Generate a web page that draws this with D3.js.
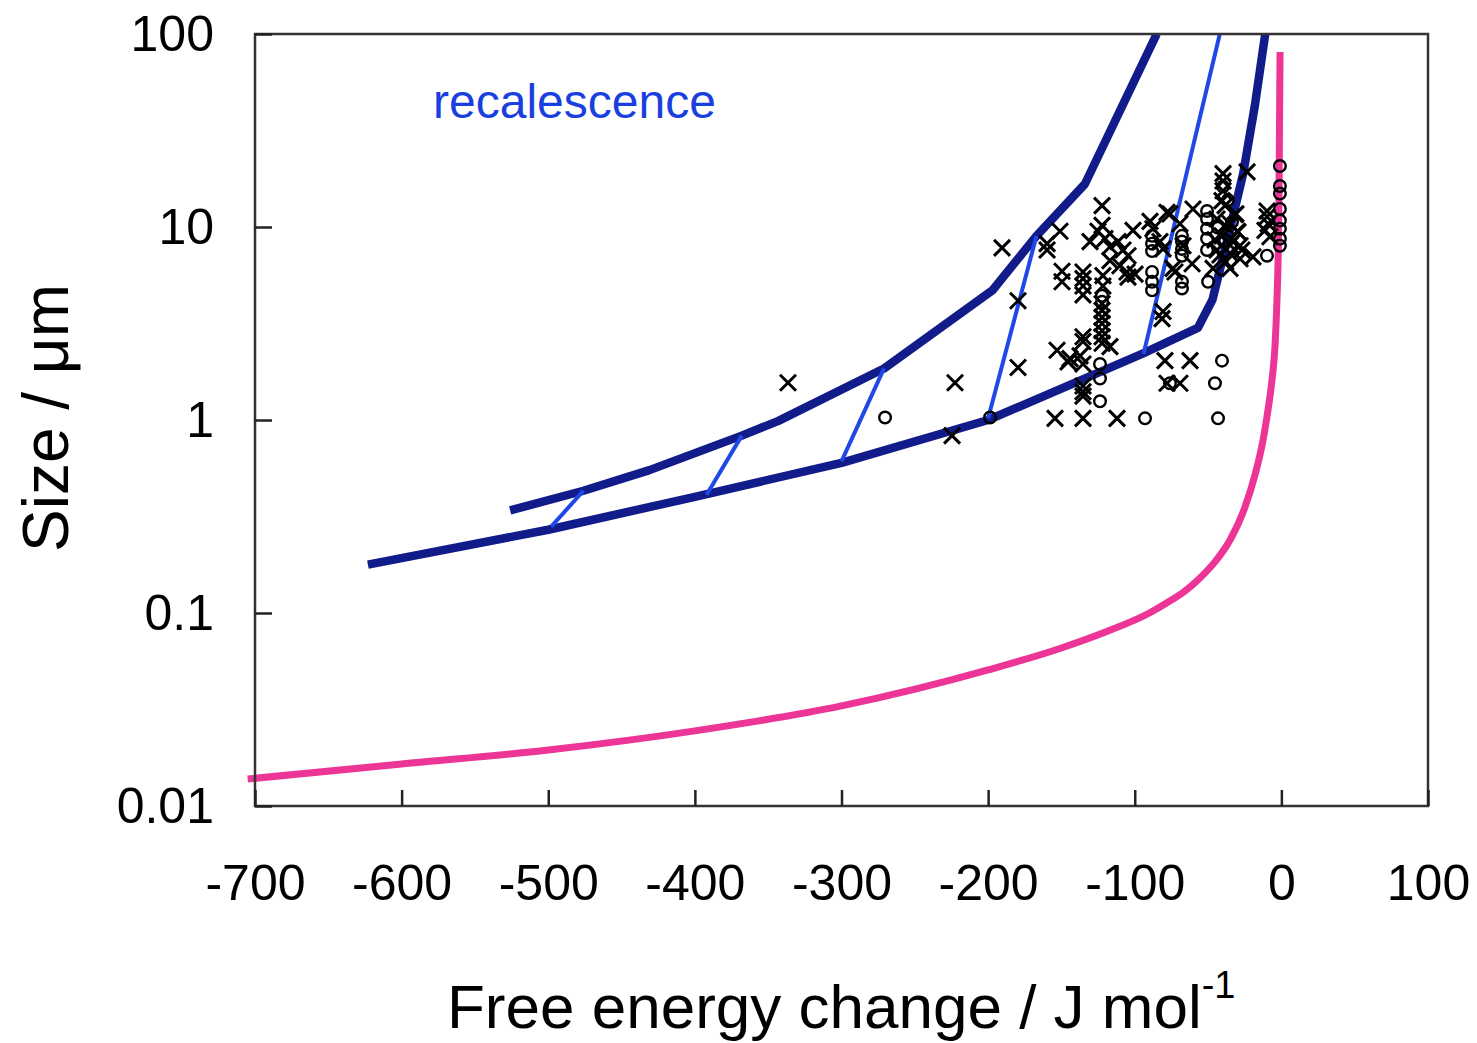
<!DOCTYPE html>
<html>
<head>
<meta charset="utf-8">
<script src="https://cdn.jsdelivr.net/npm/d3@7"></script>
<style>
  html, body { margin: 0; padding: 0; background: #fff; }
  svg { display: block; font-family: "Liberation Sans", Arial, sans-serif; }
</style>
</head>
<body>
<svg id="chart" width="1477" height="1043"></svg>
<script>
// ---------- data ----------
const xTicks = [-700, -600, -500, -400, -300, -200, -100, 0, 100];
const xTickLabels = ["-700", "-600", "-500", "-400", "-300", "-200", "-100", "0", "100"];
const yTicks = [0.01, 0.1, 1, 10, 100];
const yTickLabels = ["0.01", "0.1", "1", "10", "100"];

// upper boundary (navy)
const upperCurve = [[-526,0.34],[-476,0.43],[-431,0.55],[-368,0.83],[-343,0.99],[-271,1.85],[-197,4.7],[-167,9.0],[-134,16.7],[-85,100]];
// lower boundary (navy)
const lowerCurve = [[-623,0.178],[-500,0.27],[-400,0.40],[-300,0.60],[-200,1.0],[-95,2.2],[-57,3.0],[-47,4.2],[-35,9.8],[-26,19],[-18,43],[-11,100]];
// recalescence connectors (blue)
const recalescence = [
  [[-498,0.28],[-476,0.43]],
  [[-392,0.41],[-368,0.83]],
  [[-300,0.61],[-271,1.85]],
  [[-200,1.02],[-167,9.0]],
  [[-94,2.2],[-42,100]]
];
// critical size curve (pink)
const criticalCurve = [[-705,0.0138],[-600,0.0165],[-500,0.0195],[-400,0.0245],[-300,0.0330],[-200,0.0507],[-150,0.0659],[-120,0.0797],[-90,0.100],[-78,0.113],[-65.7,0.130],[-55.5,0.152],[-45.3,0.184],[-35,0.239],[-24.8,0.354],[-18,0.519],[-12.5,0.787],[-9.1,1.13],[-6.4,1.61],[-4.3,2.45],[-3.0,4.19],[-2.1,7.6],[-1.6,15.6],[-1.2,40.4],[-0.9,80.7]];

// observed particles: crosses
const crosses = [
  [-336.5,1.56],[-222.6,1.56],[-224.6,0.83],[-190.5,7.8],[-179.6,4.15],[-179.6,1.87],
  [-153.0,2.3],[-145.5,2.0],[-144.2,2.08],[-154.4,1.02],[-135.3,1.02],[-112.1,1.02],
  [-79.4,2.03],[-62.3,2.03],[-78.0,1.55],[-69.2,1.55],
  [-135.3,1.5],[-135.3,1.4],[-135.3,1.33],[-135.3,2.55],[-135.3,2.7],[-137.3,2.15],[-135.3,1.95],[-116.9,2.4],
  [-122.3,4.0],[-122.3,3.7],[-122.3,3.4],[-122.3,3.16],[-122.3,2.9],[-122.3,2.7],[-122.3,2.5],
  [-80.7,3.65],[-81.4,3.35],
  [-159.8,8.2],[-159.8,7.6],[-151.0,9.5],[-149.6,5.9],[-149.6,5.2],
  [-135.3,5.85],[-135.3,5.4],[-135.3,4.95],[-135.3,4.45],
  [-122.3,12.9],[-122.3,10.2],[-125.1,9.5],[-120.3,8.7],[-130.5,8.4],[-116.9,7.9],[-111.4,8.4],
  [-108.0,7.6],[-104.6,7.1],[-101.2,9.6],[-110.1,6.3],[-105.3,5.85],[-99.8,5.7],[-104.6,5.5],
  [-116.9,6.7],[-121.7,5.6],[-121.7,4.95],
  [-89.6,10.7],[-78.0,11.9],[-80.7,7.7],[-73.9,6.1],
  [-39.8,18.9],[-39.8,17.3],[-23.4,19.3],[-39.8,15.4],[-40.5,13.7],[-38.4,12.9],
  [-9.8,12.1],[-9.8,11.3],[-9.1,10.4],[-11.2,9.6],[-7.8,8.9],
  [-76.0,11.7],[-60.3,12.4],[-87.6,9.8],[-82.8,8.4],[-72.6,5.85],[-60.9,6.45],[-46.6,6.1],
  [-69.2,10.4],[-67.1,8.0],
  [-43.9,11.0],[-35,10.4],[-30,9.5],[-40.5,9.0],[-33,8.4],[-28.2,8.0],[-43.9,7.6],[-35,7.3],
  [-28.2,6.85],[-38,6.6],[-31,11.7],[-19.4,7.0],[-35,6.1],
  [-38.4,10.2],[-35.0,8.07],[-31.6,11.6],[-41.9,7.16],[-29.6,9.42],[-45.3,8.57],[-26.9,7.6]
];
// observed particles: circles
const circles = [
  [-270.3,1.03],[-198.7,1.03],[-123.7,1.64],[-123.7,1.95],[-123.7,1.25],[-93.0,1.02],[-43.2,1.02],
  [-40.5,2.03],[-45.3,1.55],[-76.0,1.55],[-122.3,4.4],[-122.3,4.1],
  [-88.2,9.0],[-88.2,8.2],[-88.2,7.5],[-88.2,5.85],[-88.2,5.2],[-88.2,4.7],
  [-67.8,9.0],[-67.8,8.4],[-67.8,7.7],[-67.8,7.1],[-67.8,5.2],[-67.8,4.8],
  [-50.7,12.1],[-50.7,11.0],[-50.7,9.8],[-50.7,8.7],[-50.7,7.6],[-50.0,5.2],
  [-1.0,20.7],[-1.0,16.3],[-1.0,14.9],[-1.0,12.4],[-1.0,10.8],[-1.0,9.8],[-1.0,8.7],[-1.0,8.0],
  [-9.8,7.1],[-39.8,16.2],
  [-36.4,13.8],[-33.7,10.6],[-38.4,8.57],[-43.2,9.9]
];

// ---------- layout ----------
const svg = d3.select("#chart");
const plotL = 255, plotR = 1428, plotT = 34, plotB = 806;
const x = d3.scaleLinear().domain([-700, 100]).range([plotL, plotR]);
const y = d3.scaleLog().domain([0.01, 100]).range([plotB, plotT]);

const navy = "#111c8a", blue = "#1f48e6", pink = "#ec3596";

svg.append("defs").append("clipPath").attr("id", "plotclip")
  .append("rect").attr("x", plotL - 10).attr("y", plotT).attr("width", plotR - plotL + 10).attr("height", plotB - plotT);

const line = d3.line().x(d => x(d[0])).y(d => y(d[1]));
const g = svg.append("g").attr("clip-path", "url(#plotclip)");

// pink critical curve
g.append("path").datum(criticalCurve)
  .attr("d", d3.line().x(d => x(d[0])).y(d => y(d[1])).curve(d3.curveMonotoneX))
  .attr("fill", "none").attr("stroke", pink).attr("stroke-width", 7);

// navy curves
[upperCurve, lowerCurve].forEach(c => {
  g.append("path").datum(c).attr("d", line)
    .attr("fill", "none").attr("stroke", navy).attr("stroke-width", 8.5)
    .attr("stroke-linejoin", "round");
});

// blue connectors
recalescence.forEach(c => {
  g.append("path").datum(c).attr("d", line)
    .attr("fill", "none").attr("stroke", blue).attr("stroke-width", 4);
});

// markers
const ms = 8;
const mk = svg.append("g");
mk.selectAll("path.cross").data(crosses).enter().append("path")
  .attr("class", "cross")
  .attr("d", d => {
    const cx = x(d[0]), cy = y(d[1]);
    return `M${cx - ms},${cy - ms}L${cx + ms},${cy + ms}M${cx - ms},${cy + ms}L${cx + ms},${cy - ms}`;
  })
  .attr("stroke", "#000").attr("stroke-width", 3).attr("fill", "none");
mk.selectAll("circle").data(circles).enter().append("circle")
  .attr("cx", d => x(d[0])).attr("cy", d => y(d[1])).attr("r", 5.8)
  .attr("stroke", "#000").attr("stroke-width", 2.4).attr("fill", "none");

// frame
svg.append("rect").attr("x", plotL).attr("y", plotT).attr("width", plotR - plotL).attr("height", plotB - plotT)
  .attr("fill", "none").attr("stroke", "#333").attr("stroke-width", 2.5);

// ticks (inward)
const xAxis = d3.axisBottom(x).tickValues(xTicks).tickSize(-16).tickFormat((d, i) => xTickLabels[i]).tickPadding(58);
const gx = svg.append("g").attr("transform", `translate(0,${plotB})`).call(xAxis);
gx.select(".domain").remove();
gx.selectAll(".tick line").attr("stroke", "#222").attr("stroke-width", 2.5);
gx.selectAll(".tick text").attr("font-size", 50).attr("fill", "#000").attr("font-family", "Liberation Sans, Arial, sans-serif");

const yAxis = d3.axisLeft(y).tickValues(yTicks).tickSize(-17).tickFormat((d, i) => yTickLabels[i]).tickPadding(41);
const gy = svg.append("g").attr("transform", `translate(${plotL},0)`).call(yAxis);
gy.select(".domain").remove();
gy.selectAll(".tick line").attr("stroke", "#222").attr("stroke-width", 2.5);
gy.selectAll(".tick text").attr("font-size", 50).attr("fill", "#000").attr("font-family", "Liberation Sans, Arial, sans-serif");

// annotation
svg.append("text").attr("x", 433).attr("y", 118).attr("font-size", 48).attr("fill", "#1a3fe0")
  .text("recalescence");

// axis titles
svg.append("text").attr("transform", "translate(68,418) rotate(-90)").attr("text-anchor", "middle")
  .attr("font-size", 64).attr("fill", "#000").text("Size / μm");

const xt = svg.append("text").attr("x", 447).attr("y", 1028).attr("font-size", 62).attr("fill", "#000");
xt.append("tspan").text("Free energy change / J mol");
xt.append("tspan").attr("font-size", 38).attr("dy", -30).text("-1");
</script>
</body>
</html>
